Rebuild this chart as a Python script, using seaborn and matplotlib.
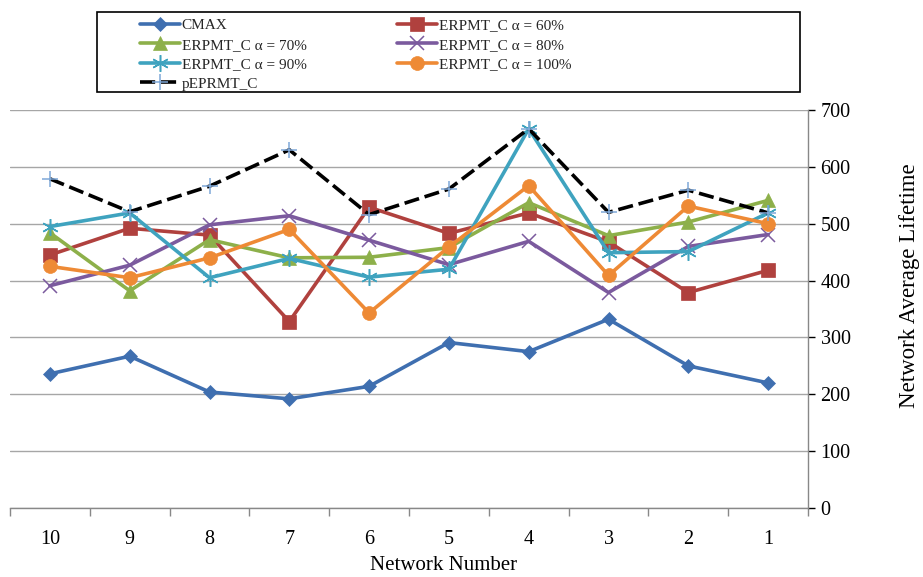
import matplotlib
matplotlib.use("Agg")
import matplotlib.pyplot as plt
import seaborn as sns
import numpy as np
from matplotlib.patches import Rectangle

# Network numbers along the x axis (shown in descending order)
networks = ["10", "9", "8", "7", "6", "5", "4", "3", "2", "1"]

# Average lifetime per network for each scheme
cmax = [236, 267, 204, 192, 214, 291, 275, 332, 250, 220]
erpmt_60 = [445, 492, 480, 328, 529, 483, 519, 468, 379, 418]
erpmt_70 = [484, 382, 472, 440, 441, 458, 537, 479, 503, 541]
erpmt_80 = [391, 427, 498, 514, 471, 428, 469, 379, 460, 481]
erpmt_90 = [495, 519, 405, 439, 406, 420, 667, 449, 451, 519]
erpmt_100 = [425, 405, 440, 490, 343, 459, 567, 409, 531, 500]
peprmt = [579, 521, 566, 630, 516, 561, 667, 520, 559, 519]

sns.set_theme(style="white")
plt.rcParams["font.family"] = ["Liberation Serif", "DejaVu Serif"]

fig = plt.figure(figsize=(9.23, 5.77), dpi=100)
ax = fig.add_axes([10 / 923, 1 - 508 / 577, 798 / 923, 398 / 577])

pos = np.arange(len(networks))

series = [
    ("CMAX", cmax, "#3F6FB0", "D", 7, "-", None),
    ("ERPMT_C α = 60%", erpmt_60, "#B0413E", "s", 10, "-", None),
    ("ERPMT_C α = 70%", erpmt_70, "#8DB04A", "^", 10, "-", None),
    ("ERPMT_C α = 80%", erpmt_80, "#7B5A9E", "x", 10, "-", None),
    ("ERPMT_C α = 90%", erpmt_90, "#3FA3BF", (6, 2, 0), 12, "-", None),
    ("ERPMT_C α = 100%", erpmt_100, "#EE8A35", "o", 10, "-", None),
    ("pEPRMT_C", peprmt, "black", "+", 12, (0, (4.2, 1.6)), "#7FA8D8"),
]

handles = {}
for name, vals, color, marker, ms, ls, mcol in series:
    mc = mcol if mcol is not None else color
    thin = marker in ("x", "+", (6, 2, 0))
    sns.lineplot(x=pos, y=vals, ax=ax, color=color, lw=2.6, linestyle=ls,
                 marker=marker, markersize=ms, markerfacecolor=mc,
                 markeredgecolor=mc, markeredgewidth=1.1 if thin else 0.5,
                 label=name, legend=False)
    handles[name] = ax.get_lines()[-1]

ax.set_xlim(-0.5, len(networks) - 0.5)
ax.set_ylim(0, 700)

# right-hand value axis
ax.yaxis.tick_right()
ax.set_yticks(np.arange(0, 701, 100))
ax.tick_params(axis="y", which="major", direction="out", length=5, width=1,
               color="#888888", pad=4, labelsize=14.5, right=True, left=False)
ax.grid(axis="y", color="#A6A6A6", lw=1)
ax.grid(axis="x", visible=False)
ax.set_axisbelow(True)

# category labels centred, tick marks on category boundaries
ax.set_xticks(pos)
ax.set_xticklabels(networks)
ax.set_xticks(np.arange(-0.5, len(networks)), minor=True)
ax.tick_params(axis="x", which="major", length=0, pad=16, labelsize=14.5, bottom=True)
ax.tick_params(axis="x", which="minor", direction="out", length=6, width=1,
               color="#888888", bottom=True)

for side in ("top", "left"):
    ax.spines[side].set_visible(False)
for side in ("right", "bottom"):
    ax.spines[side].set_color("#888888")
    ax.spines[side].set_linewidth(1)

ax.set_xlabel("Network Number", fontsize=15, color="black",
              ha="center", va="center")
ax.xaxis.set_label_coords((444 - 10) / 798, -(565 - 508) / 398)
ax.set_ylabel("Network Average Lifetime", fontsize=16.5, rotation=90,
              color="black", ha="center", va="center")
ax.yaxis.set_label_coords((909 - 10) / 798, (508 - 286) / 398)
ax.tick_params(colors="black", which="major")

# legend: two columns, row-wise order
order = ["CMAX", "ERPMT_C α = 70%", "ERPMT_C α = 90%", "pEPRMT_C",
         "ERPMT_C α = 60%", "ERPMT_C α = 80%", "ERPMT_C α = 100%"]
fig.patches.append(Rectangle((97 / 923, 1 - 92 / 577), 703 / 923, 80 / 577,
                             transform=fig.transFigure, fill=False,
                             edgecolor="black", lw=1.2))
fig.legend([handles[k] for k in order], order, loc="upper left",
           bbox_to_anchor=(140 / 923, 1 - 18.5 / 577), ncol=2, frameon=False,
           fontsize=11, handlelength=2.62, handletextpad=0.1,
           columnspacing=5.95, labelspacing=0.38, borderpad=0, borderaxespad=0)

fig.savefig("out.png", dpi=100)
